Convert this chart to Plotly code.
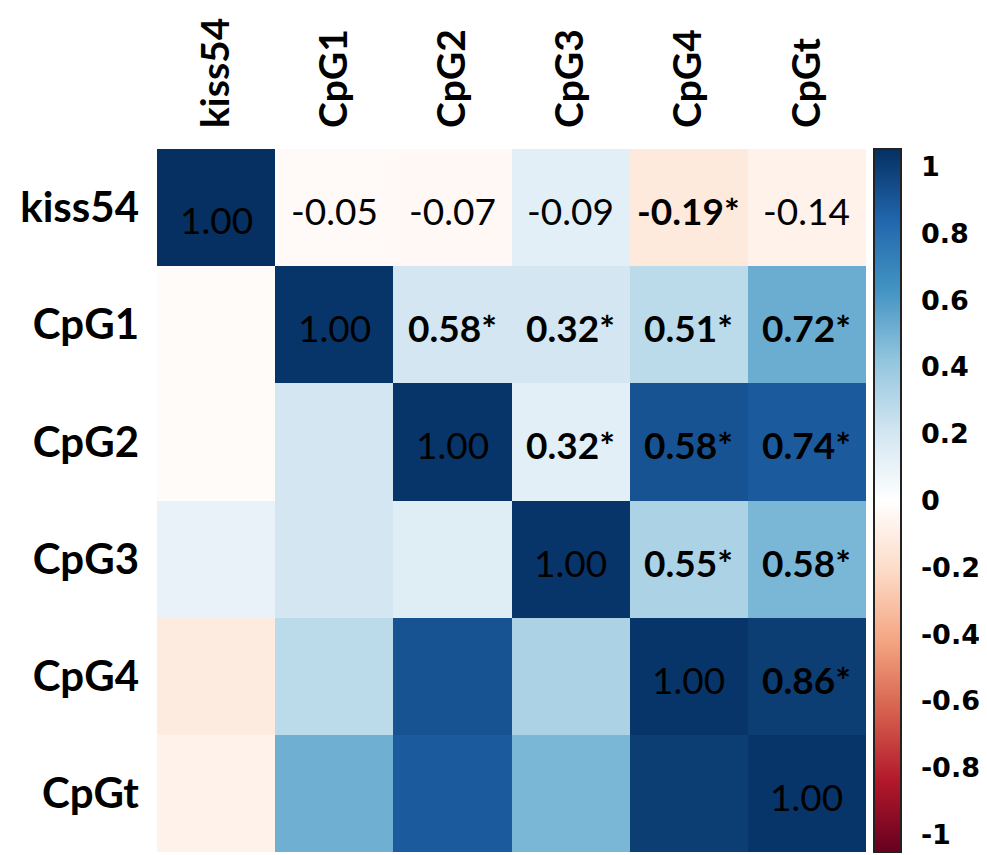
import plotly.graph_objects as go

labels = ["kiss54", "CpG1", "CpG2", "CpG3", "CpG4", "CpGt"]

# colour values as read from the cell shading
color_values = [
    [1.00, -0.03, -0.04, 0.12, -0.12, -0.07],
    [-0.02, 0.98, 0.19, 0.19, 0.27, 0.50],
    [-0.02, 0.19, 0.98, 0.12, 0.87, 0.84],
    [0.10, 0.19, 0.14, 0.98, 0.32, 0.46],
    [-0.11, 0.27, 0.87, 0.32, 0.98, 0.95],
    [-0.07, 0.49, 0.84, 0.46, 0.95, 0.98],
]

# printed coefficients (upper triangle incl. diagonal); "*" = significant
cell_text = [
    ["1.00", "-0.05", "-0.07", "-0.09", "-0.19*", "-0.14"],
    ["", "1.00", "0.58*", "0.32*", "0.51*", "0.72*"],
    ["", "", "1.00", "0.32*", "0.58*", "0.74*"],
    ["", "", "", "1.00", "0.55*", "0.58*"],
    ["", "", "", "", "1.00", "0.86*"],
    ["", "", "", "", "", "1.00"],
]

cb_ticks = [1, 0.8, 0.6, 0.4, 0.2, 0, -0.2, -0.4, -0.6, -0.8, -1]
cb_label_inset = 0.95  # labels sit slightly inside the bar ends, as in the source

palette = ["#67001F", "#B2182B", "#D6604D", "#F4A582", "#FDDBC7", "#FFFFFF",
           "#D1E5F0", "#92C5DE", "#4393C3", "#2166AC", "#053061"]
colorscale = [[i / (len(palette) - 1), c] for i, c in enumerate(palette)]

fig = go.Figure(go.Heatmap(
    z=color_values, x=labels, y=labels,
    zmin=-1, zmax=1, colorscale=colorscale,
    xgap=0, ygap=0, hoverinfo="skip",
    colorbar=dict(
        tickvals=[v * cb_label_inset for v in cb_ticks],
        ticktext=[("%g" % v) for v in cb_ticks],
        thickness=27, len=1.0, lenmode="fraction", y=0.5, yanchor="middle",
        x=1.011, xanchor="left", xpad=0, ypad=0,
        outlinewidth=2, outlinecolor="#222",
        ticks="outside", ticklen=14, tickcolor="rgba(0,0,0,0)",
        tickfont=dict(family="DejaVu Sans", size=27, color="black", weight="bold"),
    ),
))

for i, row in enumerate(cell_text):
    for j, t in enumerate(row):
        if not t:
            continue
        bold = t.endswith("*")
        fig.add_annotation(
            x=labels[j], y=labels[i], text=("<b>%s</b>" % t) if bold else t,
            showarrow=False,
            font=dict(family="Lato", size=37, color="black"),
            yshift=-12 if (i == 0 and j == 0) else -3,
        )

fig.update_xaxes(side="top", tickangle=-90, showgrid=False, zeroline=False,
                 ticklabelstandoff=20, automargin=False,
                 tickfont=dict(family="Lato", size=39, color="black", weight="bold"))
fig.update_yaxes(autorange="reversed", showgrid=False, zeroline=False,
                 ticklabelstandoff=17, automargin=False,
                 tickfont=dict(family="Lato", size=42, color="black", weight="bold"))

fig.update_layout(
    width=979, height=847,
    margin=dict(l=149, r=121, t=141, b=3),
    plot_bgcolor="white", paper_bgcolor="white",
)

fig.write_html("out.html")
